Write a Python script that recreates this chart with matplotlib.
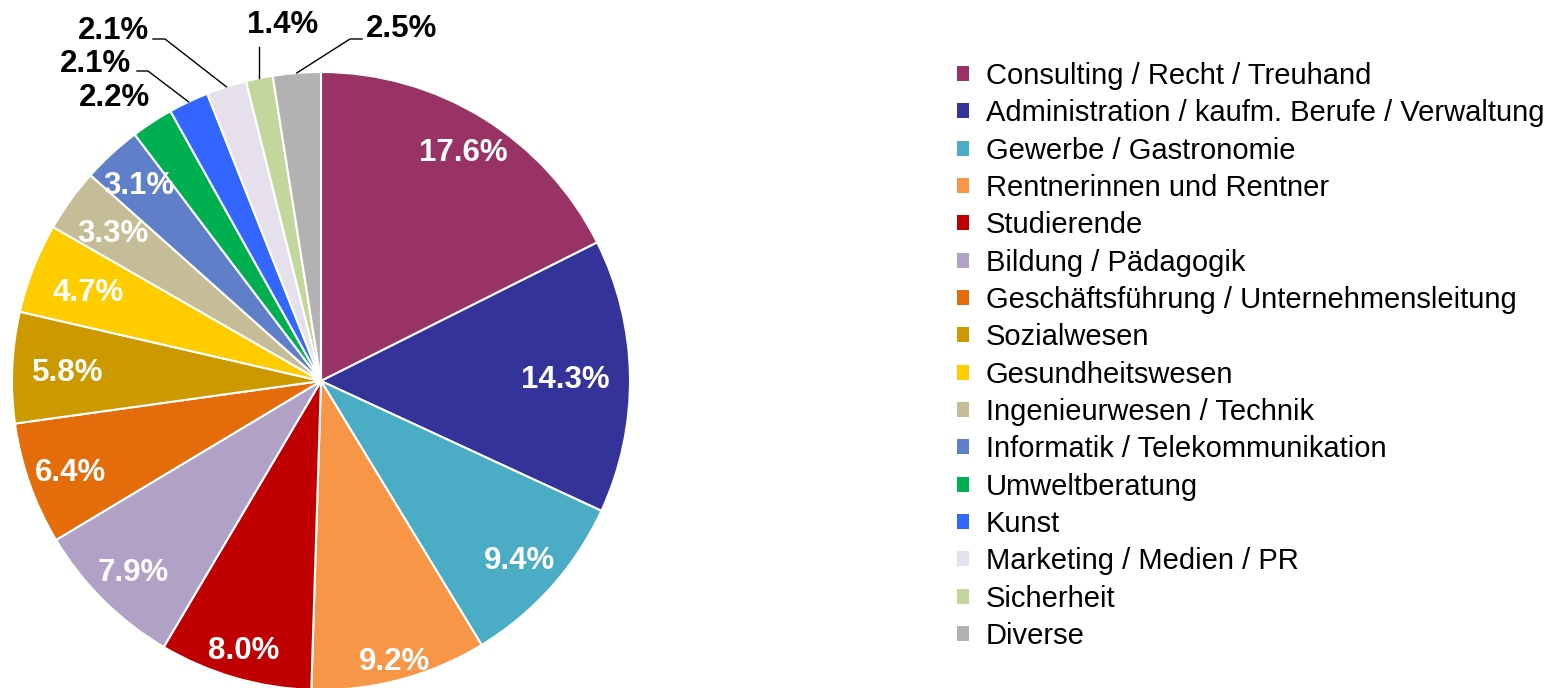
import numpy as np
import matplotlib.pyplot as plt
from matplotlib.patches import Patch

plt.rcParams['font.family'] = ['Liberation Sans', 'DejaVu Sans']

# data
categories = [
    'Consulting / Recht / Treuhand',
    'Administration / kaufm. Berufe / Verwaltung',
    'Gewerbe / Gastronomie',
    'Rentnerinnen und Rentner',
    'Studierende',
    'Bildung / Pädagogik',
    'Geschäftsführung / Unternehmensleitung',
    'Sozialwesen',
    'Gesundheitswesen',
    'Ingenieurwesen / Technik',
    'Informatik / Telekommunikation',
    'Umweltberatung',
    'Kunst',
    'Marketing / Medien / PR',
    'Sicherheit',
    'Diverse',
]
shares = [17.6, 14.3, 9.4, 9.2, 8.0, 7.9, 6.4, 5.8, 4.7, 3.3, 3.1, 2.2, 2.1, 2.1, 1.4, 2.5]
colors = ['#993366', '#333399', '#4BACC6', '#F79646', '#C00000', '#B2A1C7',
          '#E46C0A', '#CC9900', '#FFCC00', '#C4BD97', '#5F7FC9', '#00B050',
          '#3366FF', '#E6E0EC', '#C3D69B', '#B2B2B2']

# radial position of the inside labels (fraction of radius)
label_r = [0.88, 0.79, 0.86, 0.93, 0.90, 0.86, 0.86, 0.82, 0.81, 0.83, 0.87]

W, H = 1560, 688
fig = plt.figure(figsize=(W / 100, H / 100), dpi=100)
ax = fig.add_axes([0, 0, 1, 1])

# pie drawn in pixel units
cx, cy, r = 321, H - 381, 309
wedges, _ = ax.pie(shares, colors=colors, startangle=90, counterclock=False,
                   center=(cx, cy), radius=r,
                   wedgeprops=dict(edgecolor='white', linewidth=1.5))
ax.set_xlim(0, W)
ax.set_ylim(0, H)
ax.set_aspect('equal')
ax.axis('off')

fs = 22.5
lbl_font = dict(fontsize=fs, fontweight='bold', va='baseline')
half_cap = 0.358 * fs * 100 / 72  # px, to centre digits vertically

# labels with leader lines (image pixel positions: text x, text y, ha, elbow)
outside = {
    11: (115, 95, 'center', None),
    12: (131, 61, 'right', (137, 148, 71)),
    13: (149, 28, 'right', (153, 165, 39)),
    14: (283, 22, 'center', 'vertical'),
    15: (366, 26, 'left', (362, 350, 39)),
}

for i, w in enumerate(wedges):
    theta = np.deg2rad((w.theta1 + w.theta2) / 2)
    txt = f'{shares[i]:.1f}%'
    if i in outside:
        tx, ty, ha, elbow = outside[i]
        ax.text(tx, H - ty - half_cap, txt, ha=ha, color='black', **lbl_font)
        ax_x = cx + r * np.cos(theta)
        ax_y = cy + r * np.sin(theta)
        if elbow == 'vertical':
            ax.plot([ax_x, ax_x], [ax_y, H - 47], color='black', lw=1)
        elif elbow is not None:
            x0, x1, ey = elbow
            ax.plot([x0, x1, ax_x], [H - ey, H - ey, ax_y], color='black', lw=1)
    else:
        d = label_r[i] * r
        ax.text(cx + d * np.cos(theta), cy + d * np.sin(theta) - half_cap, txt,
                ha='center', color='white', **lbl_font)

handles = [Patch(facecolor=c, edgecolor='none') for c in colors]
fig.legend(handles, categories, loc='upper left',
           bbox_to_anchor=(957 / W, 1 - 62 / H), frameon=False,
           fontsize=21, handlelength=0.41, handleheight=0.41,
           handletextpad=0.58, labelspacing=0.32, borderpad=0, borderaxespad=0)

fig.savefig('out.png', dpi=100)
